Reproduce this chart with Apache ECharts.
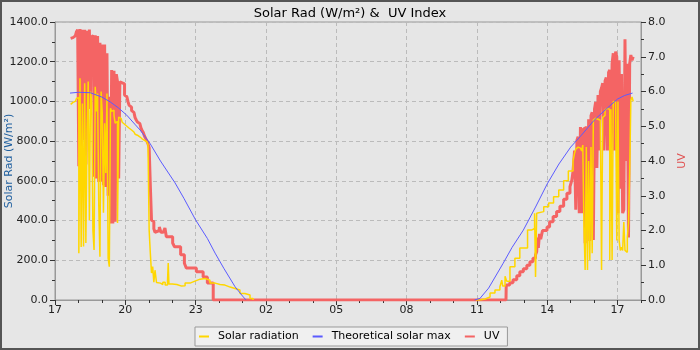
<!DOCTYPE html>
<html>
<head>
<meta charset="utf-8">
<script src="https://cdn.jsdelivr.net/npm/echarts@6/dist/echarts.min.js"></script>
<style>
  html, body { margin: 0; padding: 0; background: #e6e6e6; }
  #chart { width: 700px; height: 350px; }
</style>
</head>
<body>
<div id="chart"></div>
<script>
  // hours counted from 00:00 of the first day (so 02:00 next day = 26)
  var stepH = 3 / 60;

  /* evening, 3 minute readings from 17:40 */
  var eveStart = 17 + 40 / 60;
  var solarEve = [985, 995, 1000, 1000, 1005, 1015, 1020, 236, 1117, 267, 990, 270, 1092, 287, 850, 1100, 400, 1050, 1000, 352,
    252, 1074, 950, 1040, 480, 218, 1050, 940, 440, 890, 640, 1040, 211, 168, 966, 950, 956, 930, 891, 900,
    388, 921, 915, 905, 895, 885, 880, 875, 870, 865, 860, 856, 850, 846, 840, 835, 830, 826, 822, 818,
    812, 808, 804, 800, 797, 790, 780, 352, 236, 136, 168, 90, 150];
  var uvEve = [7.53, 7.55, 7.57, 7.6, 7.65, 7.72, 7.78, 3.85, 7.8, 4.0, 7.78, 4.6, 7.78, 3.9, 7.75, 5.5, 7.78, 5.5, 7.6, 7.58,
    3.55, 7.62, 3.5, 7.6, 3.4, 7.4, 3.4, 7.35, 3.3, 7.35, 3.25, 7.1, 3.0, 5.85, 2.2, 6.62, 2.2, 6.6, 2.25, 6.5,
    6.28, 3.5, 6.28, 6.25, 6.25, 6.22, 5.9, 5.85, 5.8, 5.7, 5.6, 5.55, 5.45, 5.4, 5.35, 5.25, 5.18, 5.12, 5.08, 5.03,
    4.95, 4.88, 4.82, 4.72, 4.65, 4.58, 4.5, 4.38, 3.3, 2.3, 2.25, 2.05, 1.95];

  /* evening tail and morning ramp (irregular readings); null = nothing logged overnight */
  var solarTailT = [21.33, 21.4, 21.5, 21.6, 21.7, 21.8, 21.83, 21.86, 22.0, 22.2, 22.4, 22.55, 22.76, 22.97, 23.19, 23.4,
    23.61, 23.83, 24.04, 24.25, 24.47, 24.68, 24.89, 25.1, 25.32, 25.45, 25.46, 34.96];
  var solarTailV = [88, 85, 78, 90, 75, 95, 186, 80, 78, 70, 72, 85, 95, 105, 108, 100,
    85, 78, 75, 65, 58, 50, 33, 25, 8, 0, null, 0];
  var solarRampT = [35.13, 35.35, 35.56, 35.77, 35.98, 36.06, 36.1, 36.2, 36.27, 36.41, 36.62, 36.83, 37.07, 37.16, 37.33,
    37.46, 37.5, 37.55, 37.63, 37.85, 38.06, 38.27, 38.49, 38.7, 38.9, 39.1];
  var solarRampV = [5, 15, 35, 50, 67, 100, 70, 120, 95, 168, 210, 262, 262, 352, 360,
    437, 116, 437, 445, 470, 488, 520, 554, 600, 650, 700];

  var uvTailT = [21.33, 21.45, 21.52, 21.62, 21.69, 21.75, 22.02, 22.1, 22.36, 22.52, 22.6, 23.03, 23.32, 23.5, 23.75, 36.24];
  var uvTailV = [2.0, 2.1, 1.95, 2.0, 2.07, 1.82, 1.64, 1.53, 1.3, 1.06, 0.92, 0.81, 0.66, 0.49, 0, 0];
  var uvRampT = [36.25, 36.4, 36.54, 36.7, 36.83, 36.98, 37.13, 37.26, 37.39, 37.5, 37.55, 37.58, 37.62, 37.67, 37.72, 37.8,
    37.99, 38.1, 38.25, 38.4, 38.54, 38.7, 38.84, 38.97, 39.05, 39.1];
  var uvRampV = [0.43, 0.5, 0.58, 0.7, 0.81, 0.9, 1.0, 1.1, 1.2, 1.3, 1.39, 1.8, 1.5, 1.9, 1.75, 2.0,
    2.1, 2.25, 2.4, 2.55, 2.7, 2.9, 3.07, 3.26, 3.45, 3.7];

  /* afternoon, 3 minute readings from 15:10 (39:10) */
  var mornStart = 39 + 10 / 60;
  var solarMorn = [740, 760, 770, 760, 765, 770, 750, 780, 368, 151, 770, 151, 700, 200, 770, 236, 906, 915, 921, 910,
    900, 905, 900, 151, 920, 930, 957, 965, 972, 960, 201, 960, 201, 1000, 997, 1000, 300, 1000, 300, 250,
    265, 250, 393, 250, 240, 317, 388, 640, 1007, 1022, 1000];
  var uvMorn = [4.3, 2.6, 4.6, 4.7, 2.5, 4.98, 2.5, 4.9, 4.95, 1.63, 5.0, 2.2, 5.2, 1.7, 5.3, 5.4, 1.73, 5.5, 5.7, 3.8,
    5.9, 4.3, 6.0, 6.1, 6.24, 4.3, 6.3, 6.4, 4.3, 6.55, 6.62, 4.2, 6.8, 7.1, 4.3, 7.15, 7.0, 2.5, 6.9, 3.2,
    6.5, 2.5, 2.6, 7.5, 4.0, 6.8, 1.8, 6.8, 7.05, 6.9, 7.0];

  /* theoretical max */
  var theoT = [17.64, 18.0, 18.5, 19.0, 19.35, 19.7, 20.06, 20.4, 20.63, 21.05, 21.5, 22.12, 22.5, 23.0, 23.5, 23.83,
    24.2, 24.68, 25.0, 25.15, 30, 34.9, 35.13, 35.5, 36.12, 36.5, 36.98, 37.5, 38.0, 38.5, 39.0, 39.4, 40.0,
    40.5, 41.0, 41.3, 41.64];
  var theoV = [1042, 1046, 1044, 1022, 998, 968, 931, 886, 856, 789, 700, 590, 512, 403, 310, 236,
    160, 67, 20, 0, null, 0, 8, 60, 185, 265, 352, 468, 585, 685, 770, 822, 905,
    960, 1012, 1030, 1042];

  var xMin = 17, xMax = 42;
  var leftTicks = [0, 1400, 200];
  var rightTicks = [0, 8, 1];

  function seg(start, vals) {
    return vals.map(function (v, i) { return [start + i * stepH, v]; });
  }
  function zip(ts, vs) {
    return ts.map(function (t, i) { return [t, vs[i]]; });
  }

  var solarData = [].concat(seg(eveStart, solarEve), zip(solarTailT, solarTailV), zip(solarRampT, solarRampV), seg(mornStart, solarMorn));
  var uvData = [].concat(seg(eveStart, uvEve), zip(uvTailT, uvTailV), zip(uvRampT, uvRampV), seg(mornStart, uvMorn));
  var theoData = zip(theoT, theoV);

  var font = 'DejaVu Sans';
  var cYellow = '#ffd700', cBlue = '#5b5bff', cRed = '#f46464';

  var myChart = echarts.init(document.getElementById('chart'));
  myChart.setOption({
    animation: false,
    backgroundColor: '#e6e6e6',
    textStyle: { fontFamily: font },
    title: {
      text: 'Solar Rad (W/m²) &  UV Index',
      left: 'center',
      top: 2,
      textStyle: { fontFamily: font, fontSize: 13, fontWeight: 'normal', color: '#000' }
    },
    graphic: [{
      type: 'rect', silent: true, z: 100,
      shape: { x: 0, y: 0, width: 700, height: 350 },
      style: { fill: 'none', stroke: '#555', lineWidth: 4 }
    }],
    grid: {
      left: 55, right: 59, top: 22, bottom: 50,
      outerBoundsMode: 'none', containLabel: false,
      show: true, borderColor: '#999', borderWidth: 1, backgroundColor: 'transparent'
    },
    legend: {
      data: ['Solar radiation', 'Theoretical solar max', 'UV'],
      left: 195, top: 327,
      icon: 'rect', itemWidth: 10, itemHeight: 2, itemGap: 14,
      padding: [4, 8, 4, 4],
      backgroundColor: '#f0f0f0', borderColor: '#999', borderWidth: 1,
      itemStyle: { borderWidth: 0 },
      textStyle: { fontFamily: font, fontSize: 11, color: '#000', padding: [0, 0, 0, 4] }
    },
    xAxis: [{
      type: 'value', min: xMin, max: xMax, interval: 3,
      axisLine: { lineStyle: { color: '#999' } },
      axisTick: { length: 5, lineStyle: { color: '#333' } },
      axisLabel: {
        showMaxLabel: false, margin: 5, fontSize: 11, color: '#222', fontFamily: font,
        formatter: function (v) { var h = Math.round(v) % 24; return (h < 10 ? '0' : '') + h; }
      },
      splitLine: { show: true, lineStyle: { color: '#bbb', type: [4, 3] } }
    }, {
      type: 'value', min: xMin, max: xMax, interval: 1, position: 'bottom',
      axisLine: { show: false },
      axisTick: { length: 3, lineStyle: { color: '#333' } },
      axisLabel: { show: false },
      splitLine: { show: false }
    }],
    yAxis: [{
      type: 'value', min: leftTicks[0], max: leftTicks[1], interval: leftTicks[2],
      name: 'Solar Rad (W/m²)', nameLocation: 'middle', nameGap: 40, nameMoveOverlap: false,
      nameTextStyle: { color: '#1f5f9f', fontSize: 11, fontFamily: font },
      axisLine: { show: true, lineStyle: { color: '#999' } },
      axisTick: { show: true, length: 5, lineStyle: { color: '#333' } },
      minorTick: { show: true, splitNumber: 2, length: 3, lineStyle: { color: '#333' } },
      axisLabel: { margin: 7, fontSize: 11, color: '#222', fontFamily: font, formatter: function (v) { return v.toFixed(1); } },
      splitLine: { show: true, lineStyle: { color: '#bbb', type: [4, 3] } }
    }, {
      type: 'value', min: rightTicks[0], max: rightTicks[1], interval: rightTicks[2], position: 'right',
      name: 'UV', nameLocation: 'middle', nameGap: 36, nameMoveOverlap: false,
      nameTextStyle: { color: '#e05050', fontSize: 11, fontFamily: font },
      axisLine: { show: true, lineStyle: { color: '#999' } },
      axisTick: { show: true, length: 5, lineStyle: { color: '#333' } },
      minorTick: { show: true, splitNumber: 2, length: 3, lineStyle: { color: '#333' } },
      axisLabel: { margin: 7, fontSize: 11, color: '#222', fontFamily: font, formatter: function (v) { return v.toFixed(1); } },
      splitLine: { show: false }
    }],
    series: [{
      name: 'UV', type: 'line', yAxisIndex: 1, step: 'end',
      data: uvData, showSymbol: false, z: 2,
      lineStyle: { width: 3, color: cRed }, itemStyle: { color: cRed }
    }, {
      name: 'Solar radiation', type: 'line', yAxisIndex: 0, step: 'end',
      data: solarData, showSymbol: false, z: 3,
      lineStyle: { width: 1.5, color: cYellow }, itemStyle: { color: cYellow }
    }, {
      name: 'Theoretical solar max', type: 'line', yAxisIndex: 0,
      data: theoData, showSymbol: false, z: 4,
      lineStyle: { width: 1, color: cBlue }, itemStyle: { color: cBlue }
    }]
  });
</script>
</body>
</html>
